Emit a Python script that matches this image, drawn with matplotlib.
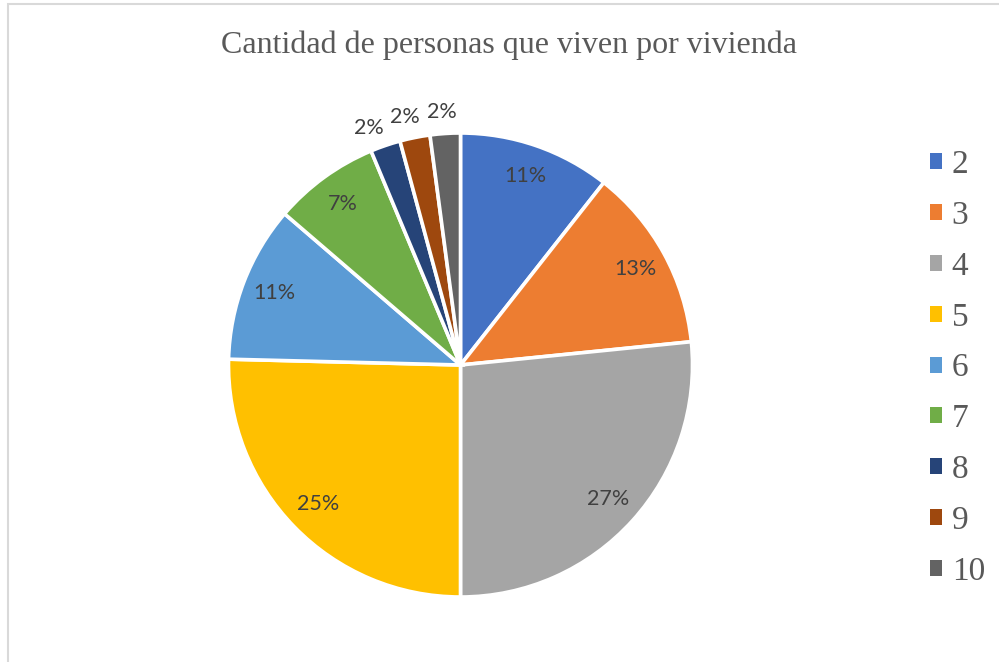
import numpy as np
import matplotlib.pyplot as plt
from matplotlib.patches import Rectangle

personas = ['2', '3', '4', '5', '6', '7', '8', '9', '10']
porcentajes = [10.6, 12.8, 26.6, 25.4, 10.9, 7.4, 2.1, 2.1, 2.1]
colores = ['#4472C4', '#ED7D31', '#A5A5A5', '#FFC000', '#5B9BD5',
           '#70AD47', '#264478', '#9E480E', '#636363']

fig = plt.figure(figsize=(9.99, 6.62), dpi=100)

# marco gris del area del grafico
fig.patches.append(Rectangle((7.5 / 999, -0.1), 1.2, 1 - 3.5 / 662 + 0.1,
                             transform=fig.transFigure, fill=False,
                             edgecolor='#D9D9D9', linewidth=1.5))

ax = fig.add_axes([228.5 / 999, 65 / 662, 464 / 999, 464 / 662])
wedges, texts, autotexts = ax.pie(
    porcentajes, colors=colores, startangle=90, counterclock=False,
    autopct='%.0f%%', pctdistance=0.86, radius=1,
    wedgeprops=dict(edgecolor='white', linewidth=2.6),
    textprops=dict(color='#404040', fontsize=15.5, family='Lato'))
ax.set_xlim(-1, 1)
ax.set_ylim(-1, 1)

# etiquetas de las porciones pequeñas fuera del circulo, algo separadas
for w, t, v in zip(wedges, autotexts, porcentajes):
    if v < 5:
        mid = (w.theta1 + w.theta2) / 2
        desde_arriba = ((mid - 90 + 180) % 360) - 180
        ang = np.deg2rad(90 + 1.12 * desde_arriba)
        t.set_position((1.095 * np.cos(ang), 1.095 * np.sin(ang)))

fig.text(0.51, 1 - 45 / 662, 'Cantidad de personas que viven por vivienda',
         ha='center', va='center', fontsize=23, color='#595959',
         family='Liberation Serif')

leg = fig.legend(wedges, personas, loc='upper left',
                 bbox_to_anchor=(913 / 999, 1 - 133 / 662), frameon=False,
                 prop=dict(family='Liberation Serif', size=24),
                 labelcolor='#595959', handlelength=0.36, handleheight=0.36,
                 handletextpad=0.3, labelspacing=0.61, borderpad=0)
for h in leg.legend_handles:
    h.set_edgecolor('none')

fig.savefig('out.png', dpi=100, facecolor='white')
